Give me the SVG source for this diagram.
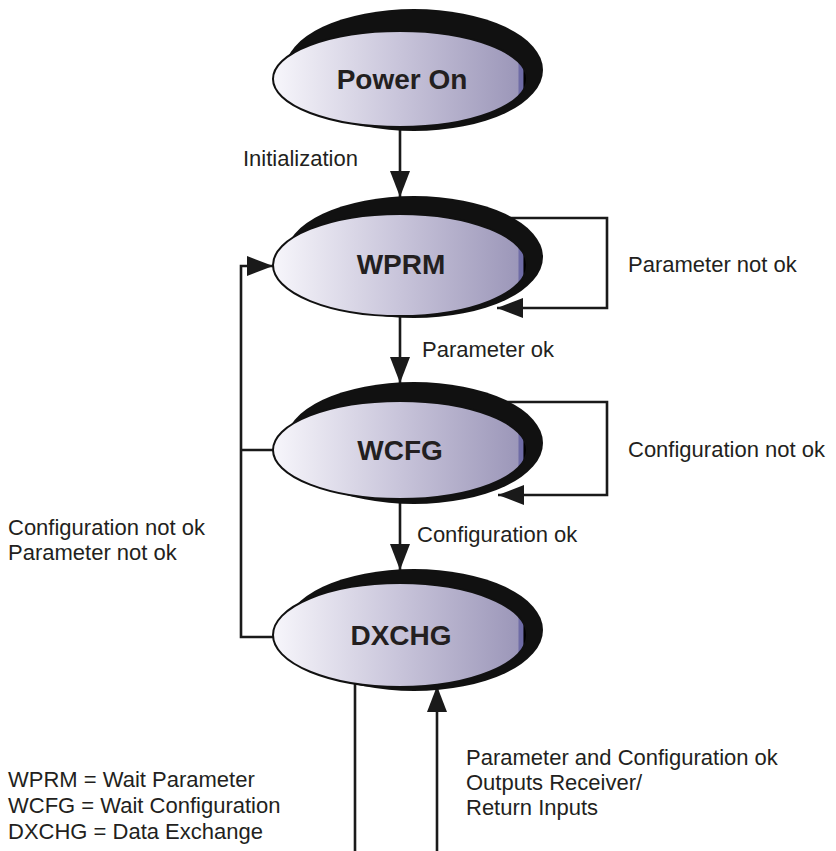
<svg xmlns="http://www.w3.org/2000/svg" width="836" height="851" viewBox="0 0 836 851">
<defs>
  <linearGradient id="g" x1="0" y1="0" x2="1" y2="0">
    <stop offset="0" stop-color="#f7f6fb"/>
    <stop offset="0.5" stop-color="#c8c4da"/>
    <stop offset="0.965" stop-color="#9c97b9"/>
    <stop offset="0.968" stop-color="#6f6ca6"/>
    <stop offset="0.984" stop-color="#6f6ca6"/>
    <stop offset="0.988" stop-color="#000"/>
    <stop offset="1" stop-color="#000"/>
  </linearGradient>
  <marker id="ah" markerUnits="userSpaceOnUse" markerWidth="26" markerHeight="20" refX="26" refY="10" orient="auto">
    <path d="M0,0 L26,10 L0,20 z" fill="#1a1a1a"/>
  </marker>
</defs>
<style>
  .shadow { fill: #111; }
  .front { fill: url(#g); stroke: #111; stroke-width: 2; }
  .lbl { font-family: "Liberation Sans", Arial, sans-serif; font-weight: bold; font-size: 28px; fill: #231f20; text-anchor: middle; }
  .t { font-family: "Liberation Sans", Arial, sans-serif; font-size: 22px; fill: #231f20; }
  .c { fill: none; stroke: #1a1a1a; stroke-width: 2.6; }
</style>
<rect width="836" height="851" fill="#fff"/>
<g id="connectors">
  <path class="c" d="M400,126 V197" marker-end="url(#ah)"/>
  <path class="c" d="M505,218 H607 V308 H497" marker-end="url(#ah)"/>
  <path class="c" d="M400,314 V383" marker-end="url(#ah)"/>
  <path class="c" d="M505,402 H607 V495 H498" marker-end="url(#ah)"/>
  <path class="c" d="M400,498 V570" marker-end="url(#ah)"/>
  <path class="c" d="M275,637 H241 V266 H273" marker-end="url(#ah)"/>
  <path class="c" d="M241,450 H275"/>
  <path class="c" d="M355,683 V851"/>
  <path class="c" d="M437,851 V686" marker-end="url(#ah)"/>
</g>
<g id="power-on">
  <ellipse class="shadow" cx="414" cy="70" rx="129" ry="61"/>
  <ellipse class="front" cx="400" cy="79" rx="127" ry="48"/>
  <text class="lbl" x="402" y="89">Power On</text>
</g>
<g id="wprm">
  <ellipse class="shadow" cx="414" cy="257" rx="129" ry="61"/>
  <ellipse class="front" cx="400" cy="265" rx="127" ry="51"/>
  <text class="lbl" x="401" y="274">WPRM</text>
</g>
<g id="wcfg">
  <ellipse class="shadow" cx="414" cy="443" rx="129" ry="61"/>
  <ellipse class="front" cx="400" cy="450" rx="127" ry="49"/>
  <text class="lbl" x="400" y="460">WCFG</text>
</g>
<g id="dxchg">
  <ellipse class="shadow" cx="414" cy="630" rx="129" ry="61"/>
  <ellipse class="front" cx="400" cy="635" rx="127" ry="52"/>
  <text class="lbl" x="401" y="645">DXCHG</text>
</g>
<g id="labels">
  <text class="t" x="243" y="166">Initialization</text>
  <text class="t" x="628" y="272">Parameter not ok</text>
  <text class="t" x="422" y="357">Parameter ok</text>
  <text class="t" x="628" y="457">Configuration not ok</text>
  <text class="t" x="417" y="542">Configuration ok</text>
  <text class="t" x="8" y="535">Configuration not ok</text>
  <text class="t" x="8" y="560">Parameter not ok</text>
  <text class="t" x="466" y="765">Parameter and Configuration ok</text>
  <text class="t" x="466" y="790">Outputs Receiver/</text>
  <text class="t" x="466" y="815">Return Inputs</text>
  <text class="t" x="8" y="787">WPRM = Wait Parameter</text>
  <text class="t" x="8" y="813">WCFG = Wait Configuration</text>
  <text class="t" x="8" y="839">DXCHG = Data Exchange</text>
</g>
</svg>
